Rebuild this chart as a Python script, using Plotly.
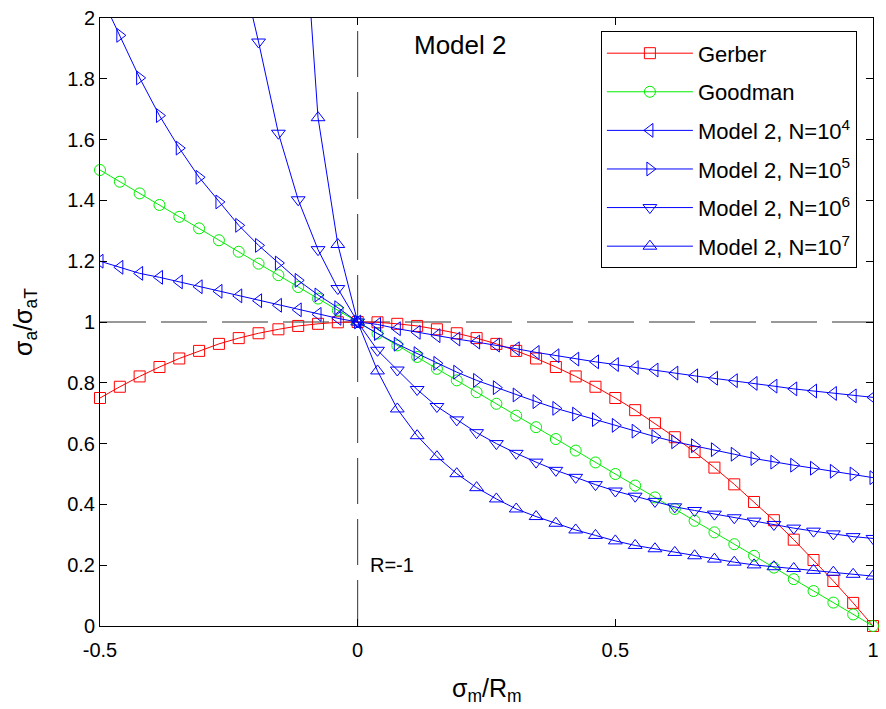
import plotly.graph_objects as go

# x positions (sigma_m / R_m), 40 points from -0.5 to 1
x_vals = [-0.5, -0.4615, -0.4231, -0.3846, -0.3462, -0.3077, -0.2692, -0.2308, -0.1923, -0.1538,
          -0.1154, -0.0769, -0.0385, 0.0, 0.0385, 0.0769, 0.1154, 0.1538, 0.1923, 0.2308,
          0.2692, 0.3077, 0.3462, 0.3846, 0.4231, 0.4615, 0.5, 0.5385, 0.5769, 0.6154,
          0.6538, 0.6923, 0.7308, 0.7692, 0.8077, 0.8462, 0.8846, 0.9231, 0.9615, 1.0]

gerber = [0.75, 0.787, 0.821, 0.852, 0.880, 0.905, 0.928, 0.947, 0.963, 0.976,
          0.987, 0.994, 0.999, 1.0, 0.999, 0.994, 0.987, 0.976, 0.963, 0.947,
          0.928, 0.905, 0.880, 0.852, 0.821, 0.787, 0.75, 0.710, 0.667, 0.621,
          0.572, 0.521, 0.466, 0.408, 0.348, 0.284, 0.217, 0.148, 0.076, 0.0]

goodman = [1.5, 1.4615, 1.423, 1.385, 1.346, 1.308, 1.269, 1.231, 1.192, 1.154,
           1.115, 1.077, 1.038, 1.0, 0.962, 0.923, 0.885, 0.846, 0.808, 0.769,
           0.731, 0.692, 0.654, 0.615, 0.577, 0.538, 0.5, 0.462, 0.423, 0.385,
           0.346, 0.308, 0.269, 0.231, 0.192, 0.154, 0.115, 0.077, 0.038, 0.0]

model2_n4 = [1.2, 1.18, 1.16, 1.147, 1.132, 1.116, 1.101, 1.086, 1.07, 1.055,
             1.04, 1.025, 1.012, 1.0, 0.992, 0.978, 0.966, 0.955, 0.944, 0.934,
             0.924, 0.912, 0.900, 0.889, 0.878, 0.869, 0.860, 0.850, 0.842, 0.832,
             0.823, 0.815, 0.807, 0.798, 0.789, 0.780, 0.773, 0.765, 0.757, 0.752]

model2_n5 = [2.08, 1.943, 1.803, 1.679, 1.572, 1.476, 1.395, 1.318, 1.252, 1.194,
             1.137, 1.089, 1.047, 1.0, 0.962, 0.927, 0.896, 0.864, 0.835, 0.808,
             0.784, 0.760, 0.738, 0.716, 0.697, 0.679, 0.660, 0.641, 0.623, 0.606,
             0.593, 0.580, 0.565, 0.551, 0.539, 0.529, 0.519, 0.509, 0.500, 0.488]

model2_n6 = [5.9, 5.1, 4.4, 3.8, 3.3, 2.85, 2.5, 2.2, 1.921, 1.621,
             1.402, 1.238, 1.110, 1.0, 0.907, 0.842, 0.778, 0.722, 0.678, 0.636,
             0.600, 0.568, 0.539, 0.512, 0.489, 0.465, 0.444, 0.427, 0.410, 0.392,
             0.380, 0.368, 0.356, 0.345, 0.334, 0.322, 0.312, 0.303, 0.294, 0.288]

model2_n7 = [12.0, 11.0, 10.0, 9.0, 8.0, 7.0, 6.0, 5.1, 4.2, 3.4,
             2.61, 1.672, 1.255, 1.0, 0.839, 0.714, 0.626, 0.557, 0.501, 0.455,
             0.418, 0.385, 0.360, 0.338, 0.316, 0.298, 0.280, 0.265, 0.254, 0.242,
             0.231, 0.220, 0.210, 0.201, 0.195, 0.189, 0.183, 0.177, 0.170, 0.164]

x_ticks = [-0.5, 0, 0.5, 1]
x_tick_text = ["-0.5", "0", "0.5", "1"]
y_ticks = [0, 0.2, 0.4, 0.6, 0.8, 1, 1.2, 1.4, 1.6, 1.8, 2]
y_tick_text = ["0", "0.2", "0.4", "0.6", "0.8", "1", "1.2", "1.4", "1.6", "1.8", "2"]

series = [
    ("Gerber", gerber, "#ff0000", "square-open", 11, False),
    ("Goodman", goodman, "#00ee00", "circle-open", 11, False),
    ("Model 2, N=10<sup>4</sup>", model2_n4, "#0000ff", "triangle-left-open", 12, True),
    ("Model 2, N=10<sup>5</sup>", model2_n5, "#0000ff", "triangle-right-open", 12, True),
    ("Model 2, N=10<sup>6</sup>", model2_n6, "#0000ff", "triangle-down-open", 12, True),
    ("Model 2, N=10<sup>7</sup>", model2_n7, "#0000ff", "triangle-up-open", 12, True),
]

FONT = "Liberation Sans, Arial, Helvetica, sans-serif"

fig = go.Figure()
for i, (name, ys, col, sym, sz, clip) in enumerate(series):
    fig.add_trace(go.Scatter(
        x=x_vals, y=ys, name=name, mode="lines+markers",
        legendgroup=f"g{i}", cliponaxis=clip,
        line=dict(color=col, width=1),
        marker=dict(symbol=sym, size=sz, color=col, line=dict(color=col, width=1)),
    ))

# dashed reference lines
fig.add_shape(type="line", xref="x", yref="y", x0=-0.5, x1=1, y0=1, y1=1,
              line=dict(color="#333333", width=1, dash="46px,15px"), layer="below")
fig.add_shape(type="line", xref="x", yref="y", x0=0, x1=0, y0=0, y1=2,
              line=dict(color="#333333", width=1, dash="46px,15px"), layer="below")

fig.add_annotation(x=0.2, y=1.91, xref="x", yref="y", text="Model 2", showarrow=False,
                   font=dict(family=FONT, size=26, color="black"), xanchor="center", yanchor="middle")
fig.add_annotation(x=0.02, y=0.2, xref="x", yref="y", text="R=-1", showarrow=False,
                   font=dict(family=FONT, size=20, color="black"), xanchor="left", yanchor="middle")

fig.add_annotation(x=0.5, y=-0.105, xref="paper", yref="paper",
                   text="σ<sub>m</sub>/R<sub>m</sub>", showarrow=False,
                   font=dict(family=FONT, size=25, color="black"), xanchor="center", yanchor="middle")
fig.add_annotation(x=-0.097, y=0.5, xref="paper", yref="paper",
                   text="σ<sub>a</sub>/σ<sub>aT</sub>", showarrow=False, textangle=-90,
                   font=dict(family=FONT, size=25, color="black"), xanchor="center", yanchor="middle")

axis_common = dict(showgrid=False, zeroline=False, showline=True, linecolor="black", linewidth=1,
                   mirror="ticks", ticks="inside", ticklen=7, tickcolor="black",
                   tickfont=dict(family=FONT, size=20, color="black"))

fig.update_xaxes(range=[-0.5, 1], tickvals=x_ticks, ticktext=x_tick_text,
                 ticklabelstandoff=6, **axis_common)
fig.update_yaxes(range=[0, 2], tickvals=y_ticks, ticktext=y_tick_text, **axis_common)

fig.update_layout(
    width=886, height=709,
    margin=dict(l=100, r=7, t=16, b=83),
    paper_bgcolor="white", plot_bgcolor="white",
    font=dict(family=FONT, size=20, color="black"),
    legend=dict(x=0.648, y=0.978, xanchor="left", yanchor="top",
                bgcolor="white", bordercolor="black", borderwidth=1,
                font=dict(family=FONT, size=22, color="black"),
                itemwidth=86, tracegroupgap=7),
    showlegend=True,
)

fig.write_html("out.html")
